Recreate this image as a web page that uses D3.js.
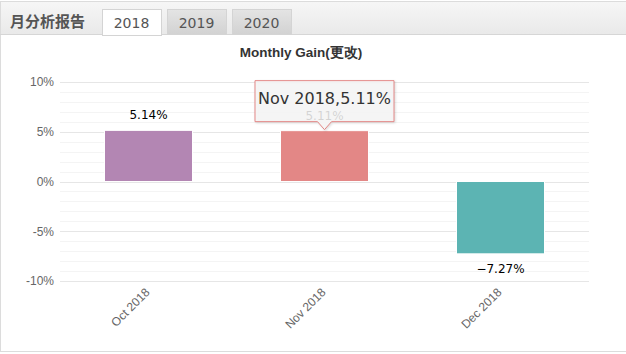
<!DOCTYPE html>
<html>
<head>
<meta charset="utf-8">
<script src="https://cdn.jsdelivr.net/npm/d3@7/dist/d3.min.js"></script>
<style>
  body { margin: 0; background: #fff; font-family: "Liberation Sans", Arial, sans-serif; }
  .grid-major { stroke: #e6e6e6; stroke-width: 1; }
  .grid-minor { stroke: #f4f4f4; stroke-width: 1; }
  .axis-label { fill: #666; font-size: 12px; }
</style>
</head>
<body>
<svg id="chart" width="626" height="354"></svg>
<script>
  var months = ["Oct 2018", "Nov 2018", "Dec 2018"]
  var gains = [5.14, 5.11, -7.27]
  var colors = ["#b386b3", "#e38786", "#5cb4b3"]
  var yTicks = [-10, -5, 0, 5, 10]
  var tabs = ["2018", "2019", "2020"]

  var svg = d3.select("#chart")

  // panel + header
  var grad = svg.append("defs").append("linearGradient")
    .attr("id", "hdr").attr("x1", 0).attr("y1", 0).attr("x2", 0).attr("y2", 1)
  grad.append("stop").attr("offset", "0%").attr("stop-color", "#f6f6f6")
  grad.append("stop").attr("offset", "100%").attr("stop-color", "#e9e9e9")
  var tgrad = svg.select("defs").append("linearGradient")
    .attr("id", "tab").attr("x1", 0).attr("y1", 0).attr("x2", 0).attr("y2", 1)
  tgrad.append("stop").attr("offset", "0%").attr("stop-color", "#e4e4e4")
  tgrad.append("stop").attr("offset", "100%").attr("stop-color", "#d2d2d2")

  svg.append("rect").attr("x", 0.5).attr("y", 1.5).attr("width", 640).attr("height", 350)
    .attr("fill", "#fff").attr("stroke", "#dcdcdc")
  svg.append("rect").attr("x", 1).attr("y", 2).attr("width", 625).attr("height", 33)
    .attr("fill", "url(#hdr)")
  svg.append("line").attr("x1", 0).attr("x2", 626).attr("y1", 34.5).attr("y2", 34.5)
    .attr("stroke", "#d6d6d6")

  svg.append("text").attr("x", 10).attr("y", 27)
    .attr("font-size", 15).attr("font-weight", "bold").attr("fill", "#555")
    .attr("font-family", "'Noto Sans CJK SC', sans-serif")
    .text("月分析报告")

  var tabX = d3.scaleBand().domain(tabs).range([102, 291]).paddingInner(0.092)
  var tabG = svg.selectAll("g.tab").data(tabs).enter().append("g").attr("class", "tab")
  tabG.append("rect")
    .attr("x", function(d) { return tabX(d) + 0.5 })
    .attr("y", 9.5)
    .attr("width", tabX.bandwidth())
    .attr("height", function(d, i) { return i === 0 ? 26 : 25 })
    .attr("fill", function(d, i) { return i === 0 ? "#fff" : "url(#tab)" })
    .attr("stroke", "#d4d4d4")
  tabG.append("text")
    .attr("x", function(d) { return tabX(d) + tabX.bandwidth() / 2 })
    .attr("y", 28)
    .attr("text-anchor", "middle")
    .attr("font-size", 14).attr("fill", "#555")
    .attr("font-family", "'DejaVu Sans', sans-serif")
    .text(function(d) { return d })
  // hide bottom border of active tab
  svg.append("line").attr("x1", tabX(tabs[0]) + 1).attr("x2", tabX(tabs[0]) + tabX.bandwidth())
    .attr("y1", 34.5).attr("y2", 34.5).attr("stroke", "#fff")

  // title
  svg.append("text").attr("x", 301).attr("y", 57)
    .attr("text-anchor", "middle").attr("font-size", 13.5).attr("font-weight", "bold")
    .attr("fill", "#333")
    .text("Monthly Gain(更改)")

  // scales
  var x = d3.scaleBand().domain(months).range([60.5, 588.5]).paddingInner(0.5).paddingOuter(0.25)
  var y = d3.scaleLinear().domain([-10, 10]).range([281, 82])

  // grid
  var minor = d3.range(-10, 10.1, 1).filter(function(v) { return v % 5 !== 0 })
  svg.append("g").selectAll("line").data(minor).enter().append("line")
    .attr("class", "grid-minor")
    .attr("x1", 60).attr("x2", 589)
    .attr("y1", function(d) { return Math.round(y(d)) + 0.5 })
    .attr("y2", function(d) { return Math.round(y(d)) + 0.5 })
  svg.append("g").selectAll("line").data(yTicks).enter().append("line")
    .attr("class", "grid-major")
    .attr("x1", 60).attr("x2", 589)
    .attr("y1", function(d) { return Math.round(y(d)) + 0.5 })
    .attr("y2", function(d) { return Math.round(y(d)) + 0.5 })

  // y axis labels
  var yAxis = d3.axisLeft(y).tickValues(yTicks).tickSize(0).tickPadding(6)
    .tickFormat(function(d) { return d + "%" })
  var yg = svg.append("g").attr("transform", "translate(60,0)").call(yAxis)
  yg.select(".domain").remove()
  yg.selectAll("text").attr("class", "axis-label").attr("font-family", null).attr("font-size", null)

  // x axis labels
  var xAxis = d3.axisBottom(x).tickSize(0).tickPadding(0)
  var xg = svg.append("g").attr("transform", "translate(0,281)").call(xAxis)
  xg.select(".domain").remove()
  xg.selectAll("text")
    .attr("class", "axis-label").attr("font-family", null).attr("font-size", null)
    .attr("text-anchor", "end")
    .attr("dy", null)
    .attr("transform", "translate(2,12) rotate(-45)")

  // bars
  svg.append("g").selectAll("rect").data(gains).enter().append("rect")
    .attr("x", function(d, i) { return x(months[i]) })
    .attr("width", x.bandwidth())
    .attr("y", function(d) { return y(Math.max(0, d)) })
    .attr("height", function(d) { return Math.abs(y(d) - y(0)) })
    .attr("fill", function(d, i) { return colors[i] })
    .attr("stroke", "#fff").attr("stroke-width", 1)

  // value labels
  svg.append("g").selectAll("text").data(gains).enter().append("text")
    .attr("x", function(d, i) { return x(months[i]) + x.bandwidth() / 2 })
    .attr("y", function(d) { return d >= 0 ? y(d) - 11 : y(d) + 19 })
    .attr("text-anchor", "middle")
    .attr("font-size", 12).attr("fill", "#000")
    .attr("font-family", "'DejaVu Sans', sans-serif")
    .text(function(d) { return (d < 0 ? "\u2212" + Math.abs(d).toFixed(2) : d.toFixed(2)) + "%" })

  // tooltip for Nov
  var ti = 1
  var cx = x(months[ti]) + x.bandwidth() / 2
  var tipY = y(gains[ti]) - 1
  var bx0 = cx - 69.5, bx1 = cx + 69.5, by0 = tipY - 49, by1 = tipY - 8
  var tip = svg.append("g")
  tip.append("path")
    .attr("d", "M" + bx0 + "," + by0 + "H" + bx1 + "V" + by1 + "H" + (cx + 7) + "L" + cx + "," + tipY +
      "L" + (cx - 7) + "," + by1 + "H" + bx0 + "Z")
    .attr("fill", "rgba(248,248,248,0.85)")
    .attr("stroke", "#e38786").attr("stroke-width", 1)
    .style("filter", "drop-shadow(1px 1px 1px rgba(0,0,0,0.15))")
  tip.append("text").attr("x", cx).attr("y", by0 + 23)
    .attr("text-anchor", "middle").attr("font-size", 16).attr("fill", "#333")
    .attr("font-family", "'DejaVu Sans', sans-serif")
    .text(months[ti] + "," + gains[ti].toFixed(2) + "%")
</script>
</body>
</html>
